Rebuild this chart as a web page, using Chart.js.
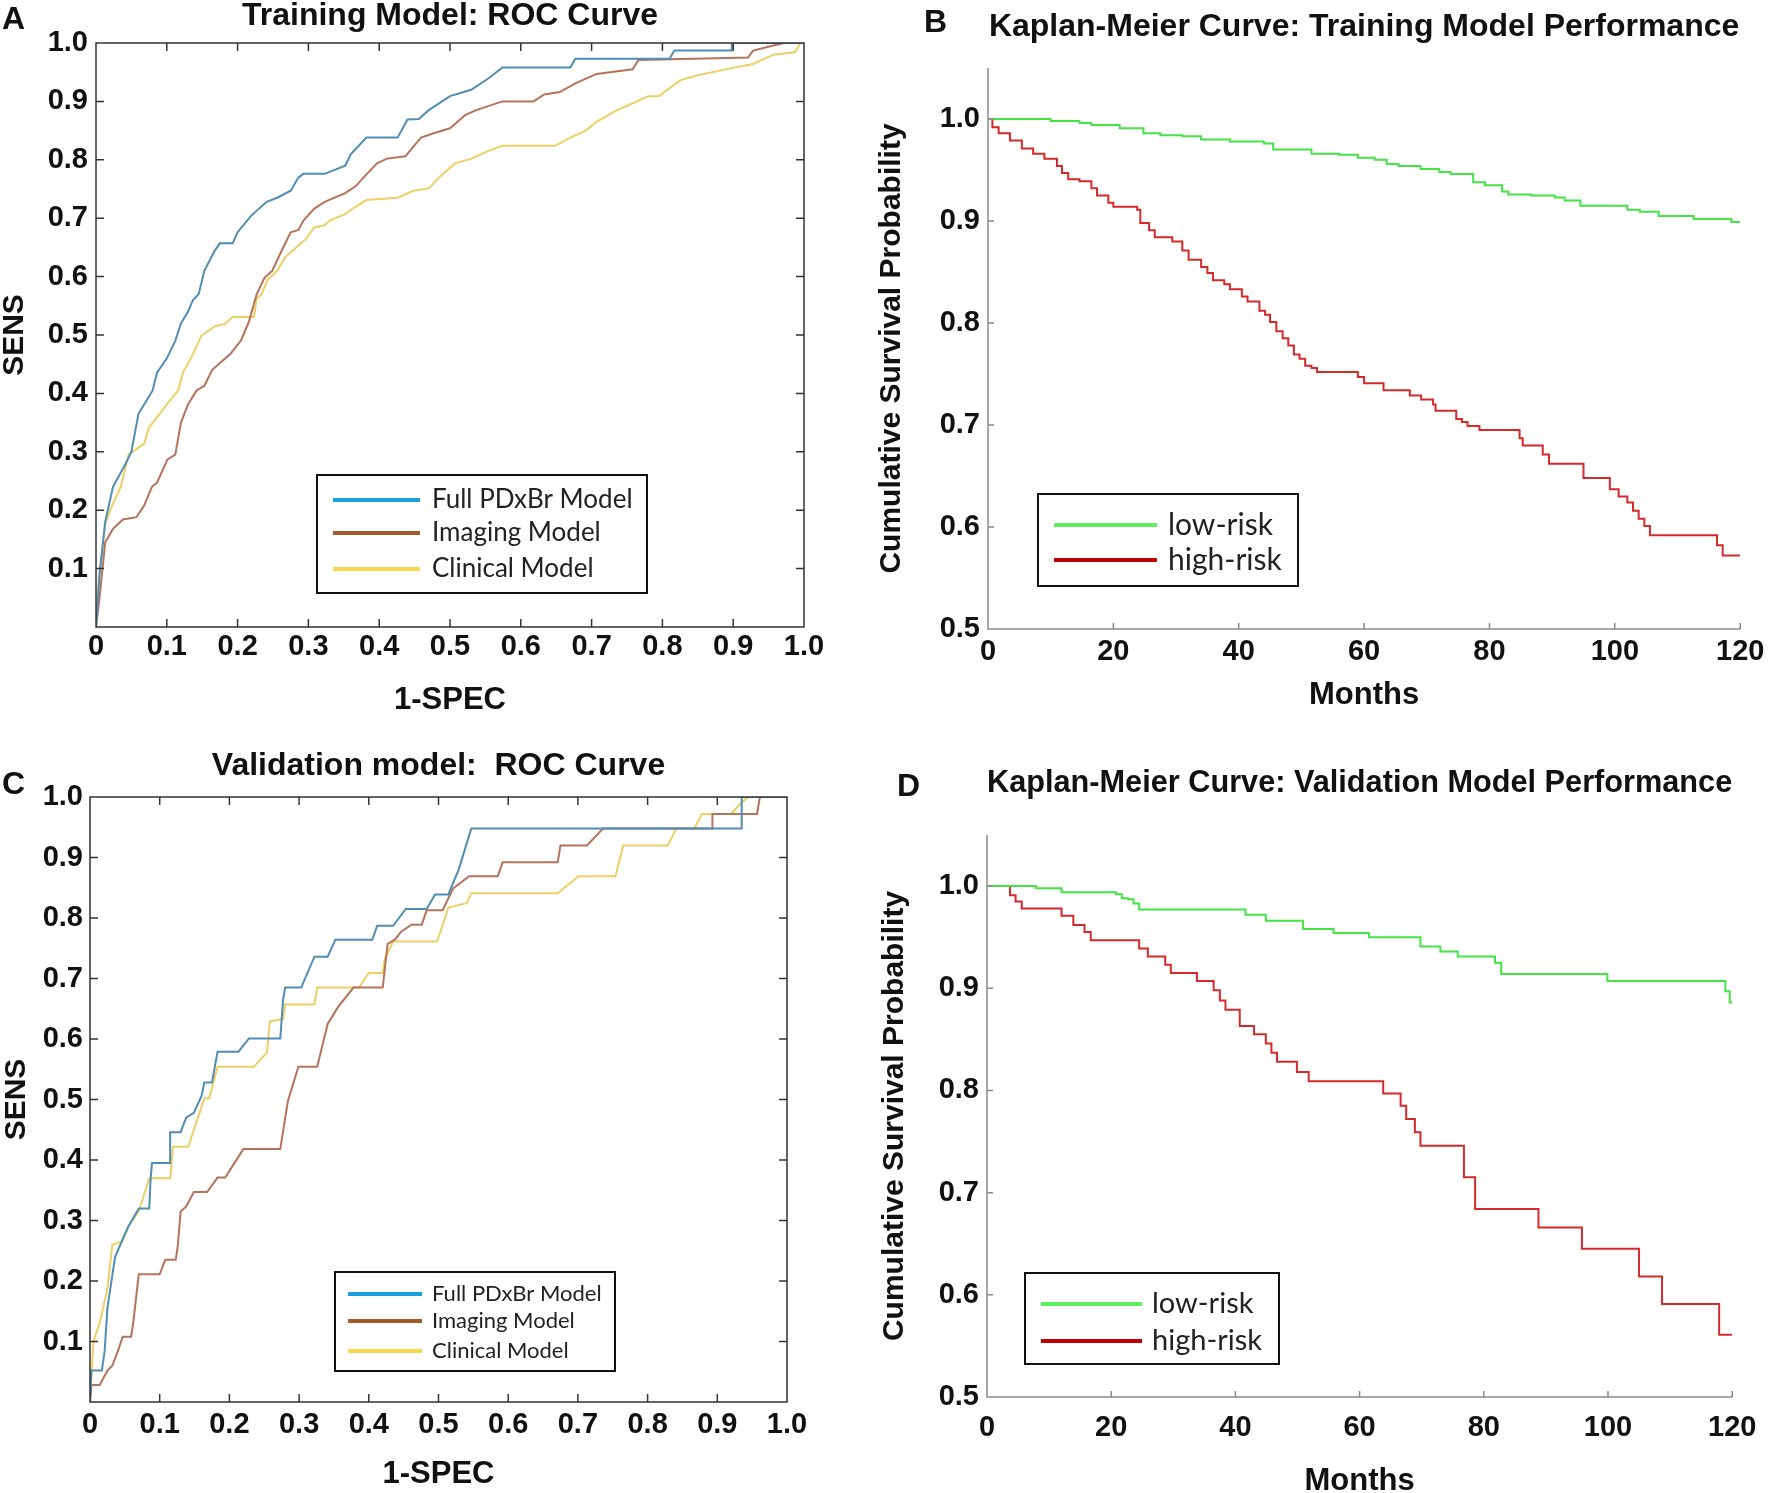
<!DOCTYPE html>
<html>
<head>
<meta charset="utf-8">
<script src="https://cdn.jsdelivr.net/npm/chart.js@4.4.1/dist/chart.umd.min.js"></script>
<style>
  html, body { margin: 0; padding: 0; background: #fff; width: 1770px; height: 1493px; overflow: hidden; }
  .panel { position: absolute; }
  .tag { position: absolute; font: bold 32px 'Liberation Sans', Arial, sans-serif; line-height: 1; color: #111; }
</style>
</head>
<body>
<canvas id="chartA" class="panel" width="860" height="730" style="left:0;top:0"></canvas>
<canvas id="chartB" class="panel" width="910" height="730" style="left:860px;top:0"></canvas>
<canvas id="chartC" class="panel" width="860" height="753" style="left:0;top:740px"></canvas>
<canvas id="chartD" class="panel" width="910" height="760" style="left:860px;top:740px"></canvas>
<div class="tag" style="left:2px;top:2px">A</div>
<div class="tag" style="left:924px;top:5px">B</div>
<div class="tag" style="left:2px;top:767px">C</div>
<div class="tag" style="left:897px;top:769px">D</div>

<script>
// ---- axis ticks ----
const rocTicks = [0, 0.1, 0.2, 0.3, 0.4, 0.5, 0.6, 0.7, 0.8, 0.9, 1.0];
const rocXLabels = ['0', '0.1', '0.2', '0.3', '0.4', '0.5', '0.6', '0.7', '0.8', '0.9', '1.0'];
const rocYLabels = ['', '0.1', '0.2', '0.3', '0.4', '0.5', '0.6', '0.7', '0.8', '0.9', '1.0'];
const kmXTicks = [0, 20, 40, 60, 80, 100, 120];
const kmXLabels = ['0', '20', '40', '60', '80', '100', '120'];
const kmYTicks = [0.5, 0.6, 0.7, 0.8, 0.9, 1.0];
const kmYLabels = ['0.5', '0.6', '0.7', '0.8', '0.9', '1.0'];

const rocSeries = ['Full PDxBr Model', 'Imaging Model', 'Clinical Model'];
const kmSeries = ['low-risk', 'high-risk'];

// ---- A: training ROC, [1-SPEC, SENS] ----
const trainFull = [[0,0],[0.005,0.09],[0.013,0.18],[0.024,0.24],[0.042,0.28],[0.05,0.30],[0.06,0.365],[0.08,0.405],
  [0.086,0.435],[0.10,0.46],[0.112,0.49],[0.12,0.52],[0.13,0.54],[0.137,0.56],[0.145,0.57],[0.153,0.61],[0.168,0.645],
  [0.175,0.657],[0.193,0.657],[0.20,0.676],[0.219,0.704],[0.241,0.728],[0.256,0.735],[0.275,0.747],[0.286,0.77],
  [0.293,0.776],[0.323,0.776],[0.352,0.79],[0.36,0.81],[0.382,0.838],[0.426,0.838],[0.44,0.869],[0.456,0.87],
  [0.47,0.885],[0.50,0.909],[0.53,0.92],[0.555,0.94],[0.574,0.958],[0.67,0.958],[0.677,0.973],[0.81,0.973],
  [0.817,0.987],[0.898,0.987],[0.898,1.0],[1,1]];
const trainImaging = [[0,0],[0.005,0.05],[0.013,0.145],[0.024,0.168],[0.038,0.184],[0.057,0.188],[0.068,0.208],
  [0.079,0.24],[0.086,0.247],[0.101,0.287],[0.112,0.295],[0.12,0.35],[0.13,0.381],[0.142,0.405],[0.153,0.413],
  [0.164,0.44],[0.175,0.452],[0.19,0.468],[0.205,0.491],[0.216,0.523],[0.227,0.57],[0.238,0.598],[0.249,0.61],
  [0.264,0.649],[0.275,0.676],[0.286,0.68],[0.293,0.696],[0.308,0.716],[0.323,0.728],[0.352,0.743],[0.367,0.755],
  [0.382,0.775],[0.397,0.794],[0.411,0.802],[0.437,0.806],[0.448,0.822],[0.459,0.838],[0.478,0.846],[0.50,0.854],
  [0.522,0.877],[0.537,0.885],[0.574,0.90],[0.618,0.90],[0.633,0.912],[0.655,0.916],[0.677,0.931],[0.707,0.947],
  [0.758,0.955],[0.766,0.971],[0.921,0.975],[0.928,0.987],[0.954,0.995],[0.972,1.0],[1,1]];
const trainClinical = [[0,0],[0.004,0.082],[0.013,0.176],[0.02,0.2],[0.035,0.24],[0.046,0.295],[0.068,0.314],
  [0.075,0.342],[0.09,0.365],[0.105,0.389],[0.116,0.405],[0.123,0.436],[0.134,0.46],[0.149,0.499],[0.168,0.515],
  [0.182,0.519],[0.193,0.531],[0.223,0.531],[0.227,0.562],[0.234,0.57],[0.242,0.594],[0.256,0.61],[0.267,0.633],
  [0.282,0.649],[0.297,0.665],[0.308,0.684],[0.323,0.688],[0.33,0.696],[0.352,0.707],[0.367,0.72],[0.382,0.731],
  [0.426,0.735],[0.448,0.747],[0.47,0.751],[0.485,0.77],[0.507,0.794],[0.53,0.802],[0.552,0.814],[0.574,0.824],
  [0.648,0.824],[0.67,0.838],[0.692,0.85],[0.707,0.865],[0.736,0.885],[0.751,0.893],[0.78,0.909],[0.795,0.909],
  [0.825,0.936],[0.847,0.944],[0.898,0.957],[0.928,0.964],[0.957,0.98],[0.987,0.984],[0.995,1.0],[1,1]];

// ---- B: training Kaplan-Meier, [month, survival] ----
const trainLow = [[0,1.0],[10,0.998],[14.6,0.996],[16.5,0.994],[21,0.991],[24.8,0.986],[27.5,0.984],[31,0.983],
  [34,0.98],[38.6,0.978],[44,0.976],[45.5,0.97],[51.6,0.966],[56,0.965],[59,0.962],[61.7,0.96],[63.6,0.956],
  [65.5,0.954],[69,0.951],[72,0.948],[73.8,0.946],[77.4,0.938],[79.3,0.935],[82,0.929],[83,0.926],[86.7,0.925],
  [90.4,0.923],[92,0.92],[94.5,0.915],[102,0.911],[104,0.909],[107,0.905],[112.6,0.902],[118.6,0.899],[120,0.899]];
const trainHigh = [[0,1.0],[0.7,0.992],[1.7,0.986],[3.5,0.979],[5.4,0.971],[7.2,0.966],[9,0.961],[11,0.954],
  [11.8,0.947],[12.8,0.941],[14.6,0.939],[16.5,0.932],[17.4,0.925],[19.2,0.918],[20,0.914],[23.8,0.911],[24.3,0.898],
  [25.7,0.891],[26.6,0.884],[29.4,0.88],[31,0.871],[32,0.862],[34,0.855],[35,0.849],[35.9,0.842],[37.7,0.838],
  [38.6,0.833],[40.5,0.826],[41.4,0.821],[43.3,0.812],[44.2,0.808],[45,0.801],[46,0.792],[47,0.785],[47.9,0.778],
  [48.8,0.769],[49.7,0.765],[50.6,0.758],[51.6,0.756],[52.5,0.752],[59,0.747],[60,0.741],[63.1,0.734],[67.3,0.729],
  [69.1,0.725],[71,0.72],[71.4,0.714],[74.7,0.706],[75.6,0.703],[76.5,0.699],[78.4,0.695],[84.8,0.687],[85.3,0.68],
  [88.5,0.671],[89.5,0.662],[95,0.648],[99.2,0.637],[100.6,0.63],[102,0.624],[102.9,0.616],[103.8,0.608],
  [104.7,0.601],[105.6,0.592],[116.3,0.582],[117.2,0.572],[120,0.572]];

// ---- C: validation ROC ----
const validFull = [[0,0],[0.002,0.052],[0.017,0.052],[0.021,0.084],[0.025,0.155],[0.036,0.24],[0.055,0.29],
  [0.07,0.32],[0.085,0.32],[0.087,0.37],[0.089,0.395],[0.115,0.395],[0.115,0.446],[0.13,0.446],[0.138,0.47],
  [0.149,0.478],[0.16,0.506],[0.164,0.528],[0.175,0.528],[0.183,0.579],[0.213,0.579],[0.228,0.601],[0.273,0.601],
  [0.277,0.665],[0.28,0.685],[0.303,0.685],[0.322,0.736],[0.341,0.736],[0.352,0.764],[0.405,0.764],[0.412,0.787],
  [0.435,0.787],[0.453,0.815],[0.483,0.815],[0.495,0.839],[0.514,0.839],[0.529,0.88],[0.547,0.948],[0.935,0.948],
  [0.935,1.0],[1,1]];
const validImaging = [[0,0],[0.002,0.028],[0.014,0.028],[0.025,0.052],[0.032,0.06],[0.04,0.084],[0.047,0.108],
  [0.059,0.108],[0.062,0.131],[0.07,0.211],[0.1,0.211],[0.108,0.235],[0.123,0.235],[0.126,0.259],[0.13,0.315],
  [0.138,0.323],[0.149,0.347],[0.168,0.347],[0.183,0.371],[0.194,0.371],[0.22,0.418],[0.273,0.418],[0.284,0.498],
  [0.299,0.554],[0.326,0.554],[0.341,0.625],[0.356,0.653],[0.378,0.685],[0.42,0.685],[0.427,0.757],[0.438,0.765],
  [0.446,0.777],[0.461,0.789],[0.476,0.789],[0.483,0.813],[0.506,0.813],[0.521,0.849],[0.544,0.869],[0.585,0.869],
  [0.592,0.892],[0.671,0.892],[0.675,0.92],[0.713,0.92],[0.736,0.948],[0.893,0.948],[0.893,0.972],[0.957,0.972],
  [0.961,1.0],[1,1]];
const validClinical = [[0,0],[0.005,0.1],[0.014,0.131],[0.025,0.187],[0.032,0.26],[0.045,0.265],[0.055,0.29],
  [0.07,0.315],[0.085,0.37],[0.115,0.37],[0.119,0.422],[0.141,0.422],[0.149,0.45],[0.156,0.474],[0.164,0.502],
  [0.171,0.502],[0.183,0.554],[0.235,0.554],[0.254,0.578],[0.258,0.629],[0.277,0.633],[0.28,0.657],[0.322,0.657],
  [0.326,0.685],[0.386,0.685],[0.4,0.709],[0.42,0.709],[0.423,0.733],[0.435,0.761],[0.498,0.761],[0.514,0.817],
  [0.541,0.825],[0.547,0.841],[0.671,0.841],[0.701,0.869],[0.754,0.869],[0.765,0.92],[0.829,0.92],[0.841,0.948],
  [0.867,0.948],[0.878,0.972],[0.92,0.972],[0.929,0.984],[0.944,1.0],[1,1]];

// ---- D: validation Kaplan-Meier ----
const validLow = [[0,1.0],[7.9,0.998],[12,0.994],[20.8,0.992],[21.7,0.988],[22.7,0.987],[23.6,0.983],[24.5,0.977],
  [41.6,0.972],[44.9,0.966],[50.9,0.958],[55.8,0.954],[61.5,0.95],[69.8,0.941],[73,0.936],[75.8,0.931],[81.8,0.925],
  [82.8,0.914],[99.9,0.907],[118.9,0.897],[119.6,0.886],[120,0.886]];
const validHigh = [[0,1.0],[3.7,0.991],[4.6,0.985],[5.6,0.978],[12,0.971],[13.9,0.962],[15.7,0.955],[16.7,0.947],
  [24.5,0.939],[25.9,0.931],[28.7,0.923],[29.6,0.915],[33.8,0.907],[36.5,0.898],[37.5,0.888],[38.4,0.879],
  [40.7,0.863],[43,0.855],[44.9,0.846],[45.8,0.837],[46.7,0.828],[49.9,0.818],[51.8,0.809],[63.8,0.797],[66.6,0.785],
  [67.5,0.772],[68.9,0.759],[69.8,0.746],[76.8,0.715],[78.6,0.684],[88.8,0.666],[95.8,0.645],[105,0.618],
  [108.7,0.591],[117.9,0.561],[120,0.561]];

const FONT = "'Liberation Sans', Arial, sans-serif";
const rocColors = ['#4f8db5', '#b5735c', '#ecd064'];
const rocLegendColors = ['#1aa0dc', '#a65a2a', '#f6d84a'];
const kmColors = ['#44e444', '#d42a2a'];
const kmLegendColors = ['#5ef05e', '#c00000'];

// box / axis lines with inward ticks
const framePlugin = {
  id: 'frame',
  afterDatasetsDraw(chart, args, o) {
    const { ctx, chartArea: a, scales: { x, y } } = chart;
    ctx.save();
    ctx.strokeStyle = o.color;
    ctx.lineWidth = o.width;
    ctx.beginPath();
    if (o.box) {
      ctx.rect(a.left, a.top, a.right - a.left, a.bottom - a.top);
    } else {
      ctx.moveTo(a.left, a.top);
      ctx.lineTo(a.left, a.bottom);
      ctx.lineTo(a.right, a.bottom);
    }
    x.ticks.forEach(t => {
      const px = x.getPixelForValue(t.value);
      ctx.moveTo(px, a.bottom); ctx.lineTo(px, a.bottom - o.tick);
      if (o.box) { ctx.moveTo(px, a.top); ctx.lineTo(px, a.top + o.tick); }
    });
    y.ticks.forEach(t => {
      const py = y.getPixelForValue(t.value);
      ctx.moveTo(a.left, py); ctx.lineTo(a.left + o.tick, py);
      if (o.box) { ctx.moveTo(a.right, py); ctx.lineTo(a.right - o.tick, py); }
    });
    ctx.stroke();
    ctx.restore();
  }
};

// legend drawn inside the plot, in a framed box
const boxLegend = {
  id: 'boxLegend',
  afterDatasetsDraw(chart, args, o) {
    const { ctx, chartArea: a } = chart;
    const bx = a.left + o.left, by = a.top + o.top;
    ctx.save();
    ctx.fillStyle = '#fff';
    ctx.fillRect(bx, by, o.w, o.h);
    ctx.strokeStyle = '#111';
    ctx.lineWidth = 2;
    ctx.strokeRect(bx, by, o.w, o.h);
    ctx.font = o.font;
    ctx.textBaseline = 'middle';
    chart.data.datasets.forEach((ds, i) => {
      const ry = by + o.rows[i];
      ctx.strokeStyle = ds.legendColor;
      ctx.lineWidth = 4;
      ctx.beginPath();
      ctx.moveTo(bx + o.lineX, ry);
      ctx.lineTo(bx + o.lineX + o.lineLen, ry);
      ctx.stroke();
      ctx.fillStyle = '#222';
      ctx.fillText(ds.label, bx + o.textX, ry);
    });
    ctx.restore();
  }
};

function makeChart(id, c) {
  const datasets = c.series.map((pts, i) => ({
    label: c.names[i],
    data: pts.map(p => ({ x: p[0], y: p[1] })),
    borderColor: c.colors[i],
    legendColor: c.legendColors[i],
    borderWidth: c.lineWidth,
    pointRadius: 0,
    fill: false,
    tension: 0,
    stepped: c.stepped
  }));
  new Chart(document.getElementById(id), {
    type: 'line',
    data: { datasets },
    plugins: [framePlugin, boxLegend],
    options: {
      responsive: false,
      animation: false,
      events: [],
      layout: { padding: { left: 0, top: 0, bottom: 0, right: c.padRight } },
      plugins: {
        legend: { display: false },
        tooltip: { enabled: false },
        title: {
          display: true, text: c.title, fullSize: false, color: '#111',
          font: { family: FONT, size: 32, weight: 'bold', lineHeight: 1 },
          padding: { top: c.titlePad[0], bottom: c.titlePad[1] }
        },
        frame: c.frame,
        boxLegend: c.legend
      },
      scales: {
        x: {
          type: 'linear', min: c.xRange[0], max: c.xRange[1],
          grid: { display: false, drawTicks: false }, border: { display: false },
          afterBuildTicks: s => { s.ticks = c.xTicks.map(v => ({ value: v })); },
          afterFit: s => { s.height = c.xAxisH; },
          ticks: {
            autoSkip: false, maxRotation: 0, padding: c.xTickPad, color: '#111',
            font: { family: FONT, size: 29, weight: 'bold' },
            callback: (v, i) => c.xLabels[i]
          },
          title: {
            display: true, text: c.xTitle, color: '#111',
            font: { family: FONT, size: 31, weight: 'bold', lineHeight: 1 },
            padding: { top: 0, bottom: c.xTitlePad }
          }
        },
        y: {
          type: 'linear', min: c.yRange[0], max: c.yRange[1],
          grid: { display: false, drawTicks: false }, border: { display: false },
          afterBuildTicks: s => { s.ticks = c.yTicks.map(v => ({ value: v })); },
          afterFit: s => { s.width = c.yAxisW; },
          ticks: {
            autoSkip: false, padding: c.yTickPad, color: '#111',
            font: { family: FONT, size: 29, weight: 'bold' },
            callback: (v, i) => c.yLabels[i]
          },
          title: {
            display: true, text: c.yTitle, color: '#111',
            font: { family: FONT, size: 30, weight: 'bold', lineHeight: 1 },
            padding: { top: c.yTitlePad, bottom: 0 }
          }
        }
      }
    }
  });
}

const rocBase = {
  names: rocSeries, colors: rocColors, legendColors: rocLegendColors, lineWidth: 2, stepped: false,
  xRange: [0, 1], yRange: [0, 1], xTicks: rocTicks, yTicks: rocTicks, xLabels: rocXLabels, yLabels: rocYLabels,
  xTitle: '1-SPEC', yTitle: 'SENS', frame: { box: true, color: '#333', width: 1.5, tick: 8 }
};
const kmBase = {
  names: kmSeries, colors: kmColors, legendColors: kmLegendColors, lineWidth: 2, stepped: true,
  xRange: [0, 120], yRange: [0.5, 1.05], xTicks: kmXTicks, yTicks: kmYTicks, xLabels: kmXLabels, yLabels: kmYLabels,
  xTitle: 'Months', yTitle: 'Cumulative Survival Probability', frame: { box: false, color: '#8a8a8a', width: 1.5, tick: 6 }
};

makeChart('chartA', Object.assign({}, rocBase, {
  series: [trainFull, trainImaging, trainClinical],
  title: 'Training Model: ROC Curve', titlePad: [0, 11], padRight: 56,
  yAxisW: 96, yTickPad: 8, yTitlePad: 0, xAxisH: 103, xTickPad: 3, xTitlePad: 14.5,
  legend: { left: 221, top: 432, w: 330, h: 118, lineX: 16, lineLen: 87, rows: [25, 58, 94], textX: 115, font: "26px Lato, 'Open Sans', sans-serif" }
}));

makeChart('chartB', Object.assign({}, kmBase, {
  series: [trainLow, trainHigh],
  title: 'Kaplan-Meier Curve: Training Model Performance', titlePad: [11, 25], padRight: 28,
  yAxisW: 128, yTickPad: 8, yTitlePad: 17, xAxisH: 101, xTickPad: 5.6, xTitlePad: 19.5,
  legend: { left: 50, top: 426, w: 260, h: 92, lineX: 16, lineLen: 103, rows: [31, 66], textX: 130, font: "30px Lato, 'Open Sans', sans-serif" }
}));

makeChart('chartC', Object.assign({}, rocBase, {
  series: [validFull, validImaging, validClinical],
  title: 'Validation model:  ROC Curve', titlePad: [10.5, 14.5], padRight: 73,
  yAxisW: 90, yTickPad: 7, yTitlePad: 2, xAxisH: 91, xTickPad: 5.6, xTitlePad: 3.5,
  legend: { left: 245, top: 475, w: 280, h: 99, lineX: 13, lineLen: 74, rows: [22, 49, 79], textX: 97, font: "22px Lato, 'Open Sans', sans-serif" }
}));

makeChart('chartD', Object.assign({}, kmBase, {
  series: [validLow, validHigh],
  title: 'Kaplan-Meier Curve: Validation Model Performance', titlePad: [27, 36], padRight: 31,
  yAxisW: 127, yTickPad: 8, yTitlePad: 20, xAxisH: 103, xTickPad: 13.6, xTitlePad: 3.5,
  legend: { left: 38, top: 438, w: 254, h: 91, lineX: 16, lineLen: 101, rows: [31, 68], textX: 127, font: "29px Lato, 'Open Sans', sans-serif" }
}));
</script>
</body>
</html>
